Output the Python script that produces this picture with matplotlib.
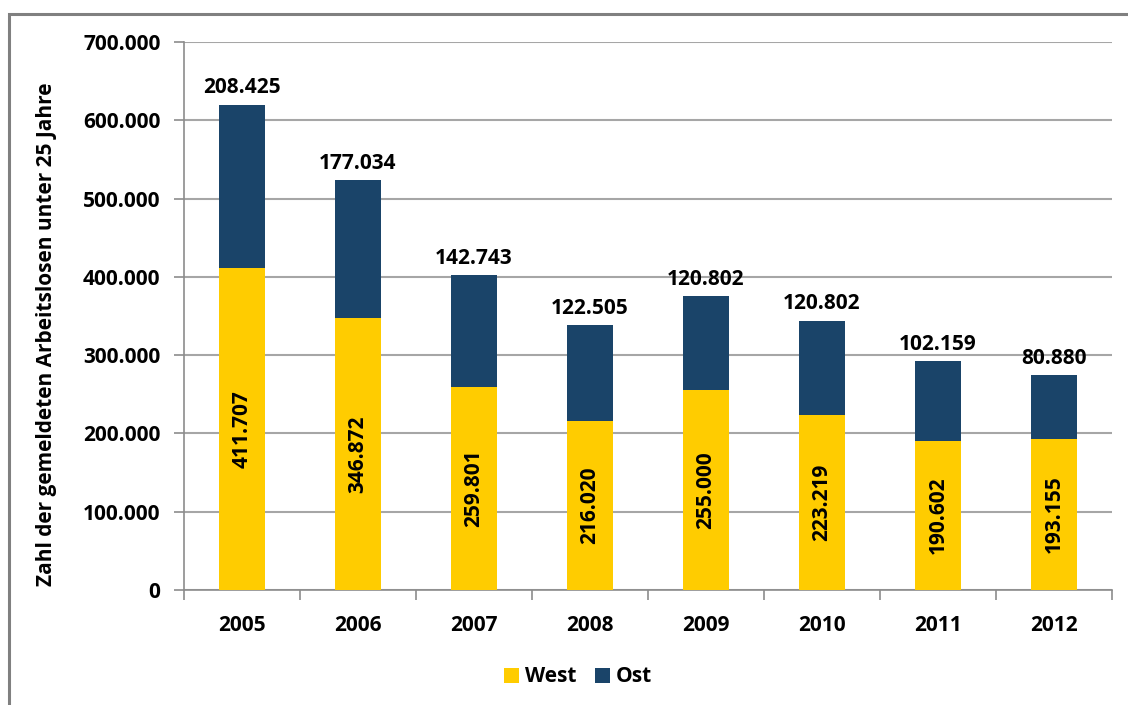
import matplotlib
matplotlib.use("Agg")
import matplotlib.pyplot as plt
from matplotlib.patches import Rectangle
import numpy as np

years = ["2005", "2006", "2007", "2008", "2009", "2010", "2011", "2012"]
west = [411707, 346872, 259801, 216020, 255000, 223219, 190602, 193155]
ost = [208425, 177034, 142743, 122505, 120802, 120802, 102159, 80880]
yticks = [0, 100000, 200000, 300000, 400000, 500000, 600000, 700000]

def fmt(v):
    return f"{v:,}".replace(",", ".")

plt.rcParams['font.family'] = ['Open Sans', 'DejaVu Sans']
plt.rcParams['font.weight'] = 'bold'
FS = 15

W, H = 1128, 705
fig = plt.figure(figsize=(W / 100, H / 100), dpi=100)
fig.patches.append(Rectangle((9 / W, -0.01), 1.2, (H - 14) / H + 0.01, transform=fig.transFigure,
                             fill=False, edgecolor='#808080', linewidth=2.2))

ax = fig.add_axes([184 / W, 1 - 590 / H, (1112 - 184) / W, (590 - 42) / H])
x = np.arange(len(years))
c_west = '#FFCC00'
c_ost = '#1A4469'
bw = 0.4
ax.bar(x, west, width=bw, color=c_west, label='West', zorder=3)
ax.bar(x, ost, width=bw, bottom=west, color=c_ost, label='Ost', zorder=3)

for i in range(len(years)):
    ax.text(x[i], west[i] / 2, fmt(west[i]), rotation=90, ha='center', va='center',
            fontsize=FS, fontweight='bold', color='black', zorder=4)
    ax.text(x[i], west[i] + ost[i] + 8000, fmt(ost[i]), ha='center', va='bottom',
            fontsize=FS, fontweight='bold', color='black', zorder=4)

ax.set_xlim(-0.5, len(years) - 0.5)
ax.set_ylim(0, 700000)
ax.set_yticks(yticks)
ax.set_yticklabels([fmt(v) for v in yticks], fontsize=FS, fontweight='bold')
ax.set_xticks(x)
ax.set_xticklabels(years, fontsize=FS, fontweight='bold')
ax.set_xticks(np.arange(-0.5, len(years)), minor=True)
ax.tick_params(axis='x', which='major', length=0, pad=18)
ax.tick_params(axis='x', which='minor', length=7, color='#8c8c8c', width=1.2)
ax.tick_params(axis='y', length=7, color='#8c8c8c', width=1.2, pad=10)
ax.yaxis.grid(True, color='#a6a6a6', linewidth=1.5, zorder=0)
for s in ['top', 'right']:
    ax.spines[s].set_visible(False)
for s in ['left', 'bottom']:
    ax.spines[s].set_color('#8c8c8c')
    ax.spines[s].set_linewidth(1.2)

fig.text(47 / W, 1 - 334 / H, "Zahl der gemeldeten Arbeitslosen unter 25 Jahre", rotation=90,
         ha='center', va='center', fontsize=15, fontweight='bold')

leg = fig.legend(loc='center', bbox_to_anchor=(578 / W, 1 - 677 / H), ncol=2, frameon=False,
                 handlelength=0.7, handleheight=0.7, handletextpad=0.3,
                 columnspacing=0.9, prop={'weight': 'bold', 'size': FS})

fig.savefig("out.png", dpi=100)
